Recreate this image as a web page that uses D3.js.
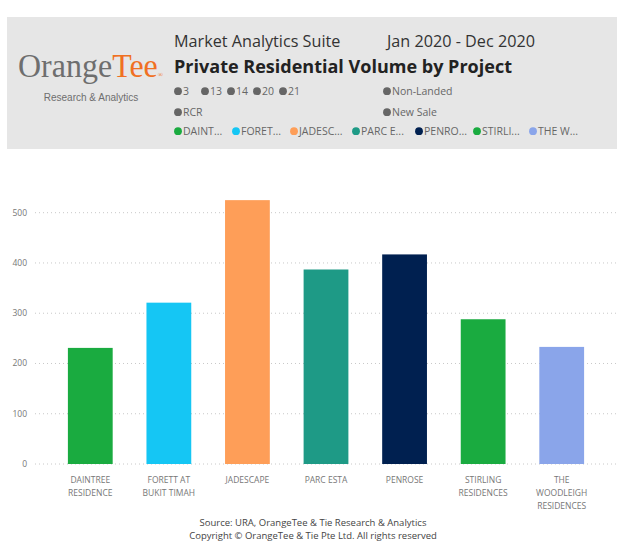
<!DOCTYPE html>
<html>
<head>
<meta charset="utf-8">
<script src="https://cdn.jsdelivr.net/npm/d3@7"></script>
<style>
  html, body { margin: 0; padding: 0; background: #fff; }
  svg { display: block; font-family: "Open Sans", "Noto Sans", sans-serif; }
</style>
</head>
<body>
<div id="chart"></div>
<script>
// chart data
const projects = ["DAINTREE RESIDENCE", "FORETT AT BUKIT TIMAH", "JADESCAPE", "PARC ESTA",
  "PENROSE", "STIRLING RESIDENCES", "THE WOODLEIGH RESIDENCES"];
const volumes = [231, 321, 525, 387, 417, 288, 233];
const barColors = ["#1AAB40", "#15C6F4", "#FE9E58", "#1E9A86", "#002050", "#1AAB40", "#8AA5EA"];
const labelLines = [["DAINTREE", "RESIDENCE"], ["FORETT AT", "BUKIT TIMAH"], ["JADESCAPE"], ["PARC ESTA"],
  ["PENROSE"], ["STIRLING", "RESIDENCES"], ["THE", "WOODLEIGH", "RESIDENCES"]];
const legendShort = ["DAINT...", "FORET...", "JADESC...", "PARC E...", "PENRO...", "STIRLI...", "THE W..."];
const yTicks = [0, 100, 200, 300, 400, 500];
const filterRegions = ["3", "13", "14", "20", "21"];

const width = 619, height = 543;
const svg = d3.select("#chart").append("svg")
  .attr("width", width)
  .attr("height", height);

// ---- header panel ----
const head = svg.append("g");
head.append("rect")
  .attr("x", 7).attr("y", 17).attr("width", 610).attr("height", 132)
  .attr("fill", "#e6e6e6");

const logo = head.append("text")
  .attr("x", 18).attr("y", 77)
  .attr("font-family", "'Liberation Serif', 'DejaVu Serif', serif")
  .attr("font-size", 33)
  .attr("textLength", 145).attr("lengthAdjust", "spacingAndGlyphs");
logo.append("tspan").attr("fill", "#6e6e6e").text("Orange");
logo.append("tspan").attr("fill", "#f07022").text("Tee");
logo.append("tspan").attr("fill", "#f07022").attr("font-size", 7).text("®");
head.append("text")
  .attr("x", 91).attr("y", 101)
  .attr("text-anchor", "middle")
  .attr("font-family", "'Liberation Sans', Arial, sans-serif")
  .attr("font-size", 10).attr("fill", "#6e6e6e")
  .text("Research & Analytics");

head.append("text")
  .attr("x", 174).attr("y", 47)
  .attr("font-size", 16.2).attr("fill", "#333")
  .text("Market Analytics Suite");
head.append("text")
  .attr("x", 387).attr("y", 47)
  .attr("font-size", 16.2).attr("fill", "#333")
  .text("Jan 2020 - Dec 2020");
head.append("text")
  .attr("x", 174).attr("y", 73)
  .attr("font-size", 18).attr("font-weight", "bold").attr("fill", "#222")
  .attr("textLength", 338).attr("lengthAdjust", "spacingAndGlyphs")
  .text("Private Residential Volume by Project");

// slicer chips
function chip(g, x, y, color, label) {
  g.append("circle").attr("cx", x + 4).attr("cy", y - 3.8).attr("r", 3.9).attr("fill", color);
  g.append("text").attr("x", x + 9).attr("y", y)
    .attr("font-size", 10.5).attr("fill", "#666").text(label);
}
const regX = [174, 201, 227, 253, 279];
filterRegions.forEach((r, i) => chip(head, regX[i], 95, "#666", r));
chip(head, 383, 95, "#666", "Non-Landed");
chip(head, 174, 116, "#666", "RCR");
chip(head, 383, 116, "#666", "New Sale");

const legX = [174, 232, 290, 352, 415, 473, 529];
legendShort.forEach((l, i) => chip(head, legX[i], 135, barColors[i], l));

// ---- bar chart ----
const x = d3.scaleBand()
  .domain(projects)
  .range([51, 601])
  .paddingInner(0.43)
  .paddingOuter(0.215);

const y = d3.scaleLinear()
  .domain([0, 500])
  .range([464, 212.7]);

const grid = svg.append("g");
grid.selectAll("line")
  .data(yTicks)
  .join("line")
  .attr("x1", 35).attr("x2", 619)
  .attr("y1", d => y(d)).attr("y2", d => y(d))
  .attr("stroke", "#c8c8c8")
  .attr("stroke-width", 1)
  .attr("stroke-dasharray", "1,3");

svg.append("g")
  .selectAll("text")
  .data(yTicks)
  .join("text")
  .attr("x", 27).attr("y", d => y(d) + 3)
  .attr("text-anchor", "end")
  .attr("font-size", 8.5).attr("fill", "#777")
  .text(d => d);

svg.append("g")
  .selectAll("rect")
  .data(volumes)
  .join("rect")
  .attr("x", (d, i) => x(projects[i]))
  .attr("y", d => y(d))
  .attr("width", x.bandwidth())
  .attr("height", d => y(0) - y(d))
  .attr("fill", (d, i) => barColors[i]);

const xl = svg.append("g")
  .selectAll("text")
  .data(projects)
  .join("text")
  .attr("text-anchor", "middle")
  .attr("font-size", 8.5).attr("fill", "#777")
  .attr("x", d => x(d) + x.bandwidth() / 2)
  .attr("y", 483);
xl.each(function (d, i) {
  const t = d3.select(this);
  labelLines[i].forEach((line, j) => {
    t.append("tspan")
      .attr("x", x(d) + x.bandwidth() / 2)
      .attr("dy", j === 0 ? 0 : 13)
      .text(line);
  });
});

// ---- footer ----
svg.append("text")
  .attr("x", 313).attr("y", 526)
  .attr("text-anchor", "middle")
  .attr("font-size", 9.5).attr("fill", "#444")
  .text("Source: URA, OrangeTee & Tie Research & Analytics");
svg.append("text")
  .attr("x", 313).attr("y", 539)
  .attr("text-anchor", "middle")
  .attr("font-size", 9.5).attr("fill", "#444")
  .text("Copyright © OrangeTee & Tie Pte Ltd. All rights reserved");
</script>
</body>
</html>
